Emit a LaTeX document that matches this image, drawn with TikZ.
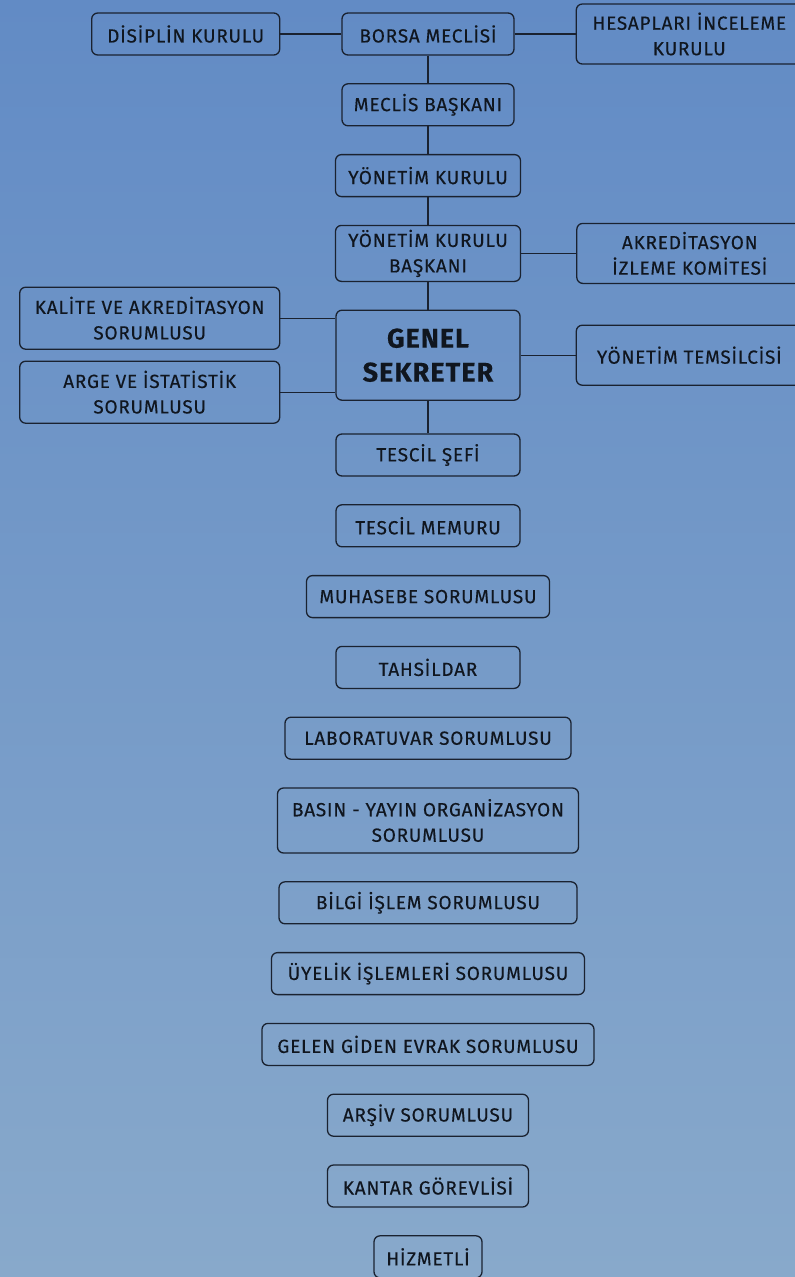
\documentclass[tikz,border=0pt]{standalone}
\usepackage{fontspec}
\setmainfont{Fira Sans}[FakeBold=0.25,LetterSpace=4]
\usepackage{xcolor}
\usetikzlibrary{positioning}
\definecolor{bgtop}{HTML}{628BC5}
\definecolor{bgbot}{HTML}{88A9CB}
\definecolor{linec}{HTML}{1A2230}
\definecolor{textc}{HTML}{10161F}

\begin{document}
\begin{tikzpicture}[
    box/.style={draw=linec,line width=1.3pt,rounded corners=6pt,align=center,
                minimum height=42pt,inner xsep=6pt,text=textc,
                font=\fontsize{19}{25.5}\selectfont},
    con/.style={draw=linec,line width=1.3pt},
    node distance=27.5pt
  ]
    \useasboundingbox (0,0) rectangle (795pt,-1277pt);
    \shade[top color=bgtop,bottom color=bgbot] (0,0) rectangle (795pt,-1277pt);

    \node[box,minimum width=172pt] at (428pt,-34pt) (borsa) {BORSA MECLİSİ};
    \node[box,minimum width=188pt,left=61pt of borsa]  (disiplin) {DİSİPLİN KURULU};
    \node[box,minimum width=226pt,minimum height=60pt,right=61pt of borsa] (hesap) {HESAPLARI İNCELEME\\KURULU};
    \node[box,minimum width=172pt,below=of borsa]  (meclis) {MECLİS BAŞKANI};
    \node[box,minimum width=185pt,below=of meclis] (yk)     {YÖNETİM KURULU};
    \node[box,minimum width=185pt,minimum height=56pt,below=of yk] (ykb) {YÖNETİM KURULU\\BAŞKANI};
    \node[box,minimum width=226pt,minimum height=60pt,right=55pt of ykb] (akred) {AKREDİTASYON\\İZLEME KOMİTESİ};
    \node[box,minimum width=184pt,minimum height=90pt,below=of ykb,
          font=\fontsize{27}{34}\selectfont\bfseries] (gs) {GENEL\\SEKRETER};
    \node[box,minimum width=260pt,minimum height=62pt,left=55pt of gs,yshift=37pt]  (kalite) {KALİTE VE AKREDİTASYON\\SORUMLUSU};
    \node[box,minimum width=260pt,minimum height=62pt,left=55pt of gs,yshift=-37pt] (arge)   {ARGE VE İSTATİSTİK\\SORUMLUSU};
    \node[box,minimum width=226pt,minimum height=60pt,right=55pt of gs] (temsilci) {YÖNETİM TEMSİLCİSİ};
    \node[box,minimum width=184pt,below=32.5pt of gs]  (tsef)   {TESCİL ŞEFİ};
    \node[box,minimum width=184pt,below=of tsef]     (tmem)   {TESCİL MEMURU};
    \node[box,minimum width=243pt,below=of tmem]     (muh)    {MUHASEBE SORUMLUSU};
    \node[box,minimum width=184pt,below=of muh]      (tahsil) {TAHSİLDAR};
    \node[box,minimum width=286pt,below=of tahsil]   (lab)    {LABORATUVAR SORUMLUSU};
    \node[box,minimum width=301pt,minimum height=65pt,below=of lab] (basin) {BASIN - YAYIN ORGANİZASYON\\SORUMLUSU};
    \node[box,minimum width=298pt,below=of basin]    (bilgi)  {BİLGİ İŞLEM SORUMLUSU};
    \node[box,minimum width=313pt,below=of bilgi]    (uye)    {ÜYELİK İŞLEMLERİ SORUMLUSU};
    \node[box,minimum width=332pt,below=of uye]      (evrak)  {GELEN GİDEN EVRAK SORUMLUSU};
    \node[box,minimum width=201pt,below=of evrak]    (arsiv)  {ARŞİV SORUMLUSU};
    \node[box,minimum width=201pt,below=of arsiv]    (kantar) {KANTAR GÖREVLİSİ};
    \node[box,minimum width=108pt,below=of kantar]   (hizmet) {HİZMETLİ};

    \draw[con] (disiplin) -- (borsa);
    \draw[con] (borsa) -- (hesap);
    \draw[con] (borsa) -- (meclis);
    \draw[con] (meclis) -- (yk);
    \draw[con] (yk) -- (ykb);
    \draw[con] (ykb) -- (akred);
    \draw[con] (ykb) -- (gs);
    \draw[con] (kalite.east) -- (kalite.east -| gs.west);
    \draw[con] (arge.east) -- (arge.east -| gs.west);
    \draw[con] (gs) -- (temsilci);
    \draw[con] (gs) -- (tsef);
  \end{tikzpicture}
\end{document}
